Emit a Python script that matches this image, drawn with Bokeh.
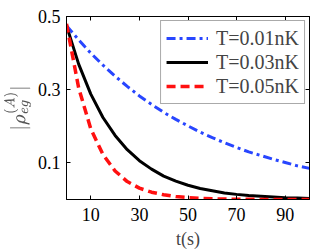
from bokeh.plotting import figure
from bokeh.models import LinearAxis, FixedTicker, Range1d, Legend, LegendItem
from bokeh.embed import file_html
from bokeh.resources import INLINE

# time (s)
t = [0, 5, 10, 15, 20, 25, 30, 35, 40, 45, 50, 55, 60, 65, 70, 75, 80, 85, 90, 95, 100]
# |rho_eg^(A)|
rho_001 = [0.475, 0.436, 0.400, 0.367, 0.337, 0.309, 0.283, 0.260, 0.238, 0.219, 0.201,
           0.184, 0.169, 0.155, 0.142, 0.130, 0.120, 0.110, 0.101, 0.092, 0.085]
rho_003 = [0.475, 0.370, 0.288, 0.224, 0.175, 0.136, 0.106, 0.083, 0.064, 0.050, 0.039,
           0.030, 0.024, 0.018, 0.014, 0.011, 0.009, 0.007, 0.005, 0.004, 0.003]
rho_005 = [0.480, 0.305, 0.193, 0.123, 0.078, 0.049, 0.031, 0.020, 0.013, 0.008, 0.005,
           0.003, 0.002, 0.0013, 0.0008, 0.0005, 0.0003, 0.0002, 0.0001, 0.0001, 0.0]
series_labels = ["T=0.01nK", "T=0.03nK", "T=0.05nK"]
x_ticks = [10, 30, 50, 70, 90]
y_ticks = [0.1, 0.3, 0.5]

FONT = "Liberation Serif"

p = figure(frame_width=243, frame_height=183, x_range=Range1d(0, 100), y_range=Range1d(0, 0.5),
           output_backend="svg", toolbar_location=None,
           min_border_left=64, min_border_right=5, min_border_top=16, min_border_bottom=50)
p.background_fill_color = "white"
p.border_fill_color = "white"
p.outline_line_color = "black"
p.outline_line_width = 1
p.xgrid.visible = False
p.ygrid.visible = False

def style_axis(ax, ticks, show_labels):
    ax.ticker = FixedTicker(ticks=ticks)
    ax.axis_line_color = "black"
    ax.major_tick_in = 4
    ax.major_tick_out = 0
    ax.minor_tick_in = 0
    ax.minor_tick_out = 0
    ax.major_tick_line_color = "black"
    ax.major_label_text_font = FONT
    ax.major_label_text_color = "black"
    ax.major_label_text_font_size = "18px"
    if show_labels:
        ax.major_label_standoff = 6
    else:
        ax.major_label_overrides = {tk: "" for tk in ticks}
        ax.major_label_standoff = 0

style_axis(p.xaxis[0], x_ticks, True)
style_axis(p.yaxis[0], y_ticks, True)
p.xaxis[0].major_label_standoff = 8
p.xaxis[0].axis_label = "t(s)"
p.xaxis[0].axis_label_text_font = FONT
p.xaxis[0].axis_label_text_font_size = "18px"
p.xaxis[0].axis_label_text_font_style = "normal"
p.xaxis[0].axis_label_standoff = 5
p.yaxis[0].axis_label = r"$$|\rho_{eg}^{(A)}|$$"
p.yaxis[0].axis_label_text_font_size = "17px"
p.yaxis[0].axis_label_text_color = "#555555"
p.yaxis[0].axis_label_standoff = 4

top_ax = LinearAxis()
style_axis(top_ax, x_ticks, False)
p.add_layout(top_ax, "above")
right_ax = LinearAxis()
style_axis(right_ax, y_ticks, False)
p.add_layout(right_ax, "right")

r1 = p.line(t, rho_001, line_color="#2846ff", line_width=3, line_dash="9 4 3 4")
r2 = p.line(t, rho_003, line_color="black", line_width=3)
r3 = p.line(t, rho_005, line_color="#ff1010", line_width=3.5, line_dash="9 5")

legend = Legend(items=[LegendItem(label=series_labels[0], renderers=[r1]),
                       LegendItem(label=series_labels[1], renderers=[r2]),
                       LegendItem(label=series_labels[2], renderers=[r3])],
                location="top_right")
legend.margin = 4
legend.padding = 5
legend.spacing = 0
legend.glyph_width = 42
legend.glyph_height = 24
legend.label_height = 24
legend.label_standoff = 8
legend.label_text_font = FONT
legend.label_text_font_size = "20px"
legend.border_line_color = "#555555"
legend.border_line_width = 1
legend.background_fill_alpha = 1
p.add_layout(legend, "center")

open("out.html", "w").write(file_html(p, INLINE))
